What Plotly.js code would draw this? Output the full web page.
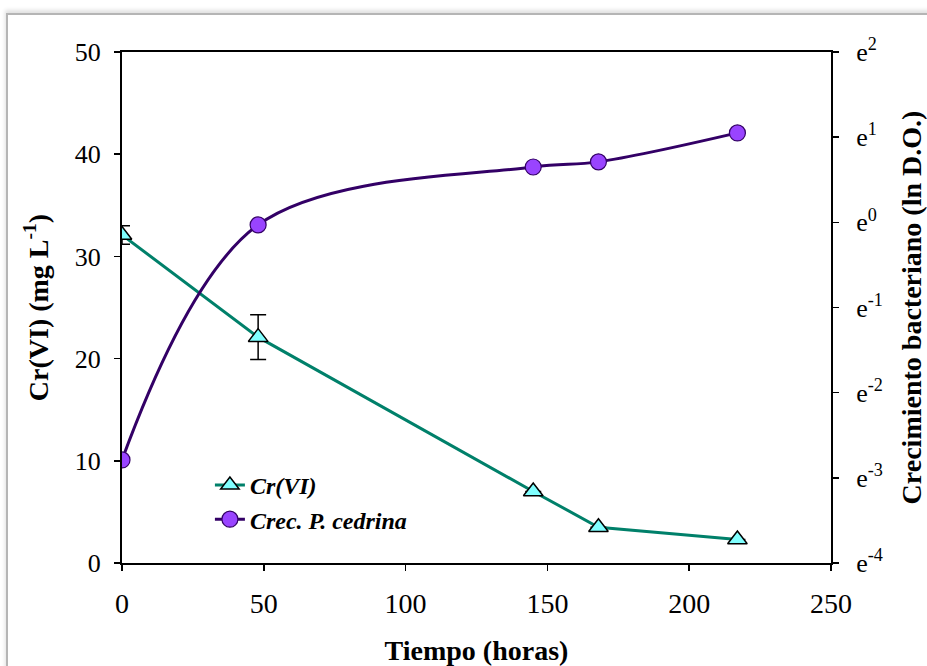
<!DOCTYPE html>
<html>
<head>
<meta charset="utf-8">
<script src="https://cdn.plot.ly/plotly-3.0.1.min.js"></script>
<style>
  html, body { margin: 0; padding: 0; background: #ffffff; }
  #frame { position: absolute; left: 6px; top: 13px; width: 960px; height: 700px;
           border-left: 2px solid #b5b5b5; border-top: 2px solid #b5b5b5;
           box-shadow: -1px -3px 4px rgba(0,0,0,0.12); }
  #chart { position: absolute; left: 0; top: 0; width: 927px; height: 666px; }
</style>
</head>
<body>
<div id="frame"></div>
<div id="chart"></div>
<script>
// Data
var hours = [0, 48, 145, 168, 217];
var crVI = [32.1, 22.1, 7.0, 3.5, 2.3];
var crVIErr = [0.9, 2.2, 0, 0, 0];
var lnDO = [-2.79, -0.03, 0.65, 0.71, 1.05];

var lnTickVals = [-4, -3, -2, -1, 0, 1, 2];
var lnTickText = ['e<sup>-4</sup>', 'e<sup>-3</sup>', 'e<sup>-2</sup>', 'e<sup>-1</sup>',
                  'e<sup>0</sup>', 'e<sup>1</sup>', 'e<sup>2</sup>'];

var serif = 'Liberation Serif, Times New Roman, serif';

var traces = [
  {
    x: hours, y: crVI, name: '<b><i>Cr(VI)</i></b>', type: 'scatter', mode: 'lines+markers',
    line: { color: '#00806A', width: 3 },
    marker: { symbol: 'triangle-up', size: 17, color: '#80FFFF', line: { color: '#000000', width: 1.5 } },
    error_y: { type: 'data', array: crVIErr, visible: true, color: '#000000', thickness: 1.5, width: 8 },
    xaxis: 'x', yaxis: 'y'
  },
  {
    x: hours, y: lnDO, name: '<b><i>Crec. P. cedrina</i></b>', type: 'scatter', mode: 'lines+markers',
    line: { color: '#330066', width: 3, shape: 'spline', smoothing: 1 },
    marker: { symbol: 'circle', size: 16, color: '#9944FF', line: { color: '#330066', width: 1.2 } },
    xaxis: 'x', yaxis: 'y2'
  }
];

var layout = {
  width: 927, height: 666,
  paper_bgcolor: 'rgba(0,0,0,0)', plot_bgcolor: 'rgba(0,0,0,0)',
  margin: { l: 122, r: 96, t: 52, b: 103 },
  font: { family: serif, color: '#000000', size: 24 },
  showlegend: true,
  legend: {
    x: 0.124, y: 0.196, xanchor: 'left', yanchor: 'top',
    bgcolor: 'rgba(0,0,0,0)', font: { family: serif, size: 24, color: '#000' }
  },
  xaxis: {
    range: [0, 250], tickvals: [0, 50, 100, 150, 200, 250],
    showline: true, linecolor: '#000', linewidth: 2, mirror: true,
    ticks: 'outside', ticklen: 6, tickwidth: 1.5, tickcolor: '#000',
    showgrid: false, zeroline: false, ticklabelstandoff: 8,
    tickfont: { family: serif, size: 28 },
    title: { text: '<b>Tiempo (horas)</b>', font: { family: serif, size: 28 }, standoff: 26 }
  },
  yaxis: {
    range: [0, 50], tickvals: [0, 10, 20, 30, 40, 50],
    showline: true, linecolor: '#000', linewidth: 2,
    ticks: 'outside', ticklen: 6, tickwidth: 1.5, tickcolor: '#000',
    showgrid: false, zeroline: false, ticklabelstandoff: 8,
    tickfont: { family: serif, size: 26 },
    title: { text: '<b>Cr(VI) (mg L<sup>-1</sup>)</b>', font: { family: serif, size: 28 }, standoff: 18 }
  },
  yaxis2: {
    overlaying: 'y', side: 'right', range: [-4, 2],
    tickvals: lnTickVals, ticktext: lnTickText,
    showline: true, linecolor: '#000', linewidth: 2,
    ticks: 'outside', ticklen: 6, tickwidth: 1.5, tickcolor: '#000',
    showgrid: false, zeroline: false, ticklabelstandoff: 12,
    tickfont: { family: serif, size: 26 },
    title: { text: '<b>Crecimiento bacteriano (ln D.O.)</b>', font: { family: serif, size: 28 }, standoff: 20 }
  }
};

Plotly.newPlot('chart', traces, layout, { displayModeBar: false, staticPlot: true });
</script>
</body>
</html>
